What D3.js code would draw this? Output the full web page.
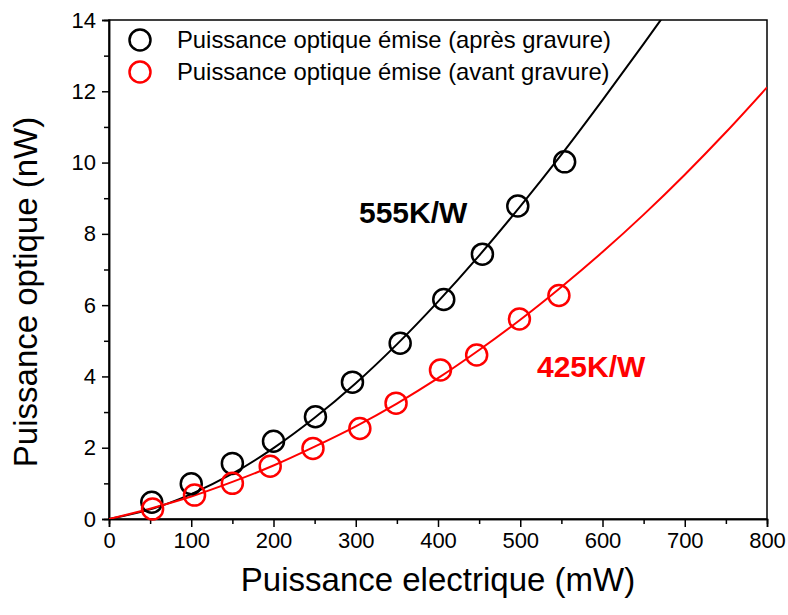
<!DOCTYPE html>
<html>
<head>
<meta charset="utf-8">
<script src="https://cdnjs.cloudflare.com/ajax/libs/d3/7.8.5/d3.min.js"></script>
<style>
     body { margin: 0; background: #fff; }
     text { font-family: Arial, 'Liberation Sans', sans-serif; }
</style>
</head>
<body>
<script>
// points measured
const apresX = [52, 100, 150, 200, 251, 296, 354, 407, 454, 497, 554]
const apresY = [0.47, 0.99, 1.56, 2.18, 2.87, 3.84, 4.93, 6.16, 7.43, 8.78, 10.02]
const avantX = [53, 104, 150, 196, 248, 305, 349, 403, 447, 499, 547]
const avantY = [0.28, 0.67, 1.0, 1.48, 1.98, 2.54, 3.25, 4.18, 4.6, 5.61, 6.27]

// fit curves
const fitApresX = [0, 50, 100, 150, 200, 250, 300, 350, 400, 450, 500, 550, 600, 650, 700]
const fitApresY = [0, 0.27, 0.7, 1.27, 1.99, 2.84, 3.81, 4.9, 6.1, 7.39, 8.77, 10.22, 11.75, 13.33, 14.95]
const fitAvantX = [0, 50, 100, 150, 200, 250, 300, 350, 400, 450, 500, 550, 600, 650, 700, 750, 800]
const fitAvantY = [0, 0.29, 0.63, 1.04, 1.5, 2.03, 2.6, 3.24, 3.95, 4.74, 5.59, 6.51, 7.49, 8.54, 9.66, 10.85, 12.11]

const xTicks = [0, 100, 200, 300, 400, 500, 600, 700, 800]
const yTicks = [0, 2, 4, 6, 8, 10, 12, 14]
const legendLabels = ['Puissance optique émise (après gravure)', 'Puissance optique émise (avant gravure)']

const w = 788
const h = 615
const plotL = 109, plotR = 767, plotT = 20, plotB = 519

const svg = d3.select('body')
     .append('svg')
     .attr('width', w)
     .attr('height', h)

const xScale = d3.scaleLinear().domain([0, 800]).range([plotL, plotR])
const yScale = d3.scaleLinear().domain([0, 14]).range([plotB, plotT])

svg.append('clipPath')
     .attr('id', 'clip')
     .append('rect')
     .attr('x', plotL)
     .attr('y', plotT)
     .attr('width', plotR - plotL)
     .attr('height', plotB - plotT)

// frame
svg.append('rect')
     .attr('x', plotL)
     .attr('y', plotT)
     .attr('width', plotR - plotL)
     .attr('height', plotB - plotT)
     .attr('fill', 'none')
     .attr('stroke', '#000')
     .attr('stroke-width', 1.5)

// axes
const xAxis = d3.axisBottom(xScale).tickValues(xTicks).tickSize(8).tickPadding(5).tickFormat(d3.format('d'))
const xMinor = d3.axisBottom(xScale).tickValues(d3.range(50, 800, 100)).tickSize(5).tickFormat('')
const yAxis = d3.axisLeft(yScale).tickValues(yTicks).tickSize(7).tickPadding(6)
const yMinor = d3.axisLeft(yScale).tickValues(d3.range(1, 14, 2)).tickSize(5).tickFormat('')

svg.append('g').attr('transform', 'translate(0,' + plotB + ')').call(xAxis)
svg.append('g').attr('transform', 'translate(0,' + plotB + ')').call(xMinor)
svg.append('g').attr('transform', 'translate(' + plotL + ',0)').call(yAxis)
svg.append('g').attr('transform', 'translate(' + plotL + ',0)').call(yMinor)

svg.selectAll('.domain').attr('stroke', '#000').attr('stroke-width', 1.5)
svg.selectAll('.tick line').attr('stroke', '#000').attr('stroke-width', 1.5)
svg.selectAll('.tick text').attr('font-size', 22).attr('fill', '#000')
     .style('font-family', "Arial, 'Liberation Sans', sans-serif")

svg.append('text')
     .attr('x', (plotL + plotR) / 2)
     .attr('y', 591)
     .attr('text-anchor', 'middle')
     .attr('font-size', 33)
     .text('Puissance electrique (mW)')

svg.append('text')
     .attr('transform', 'translate(37,292) rotate(-90)')
     .attr('text-anchor', 'middle')
     .attr('font-size', 33)
     .text('Puissance optique (nW)')

// fit lines
const line = d3.line()
     .x(d => xScale(d[0]))
     .y(d => yScale(d[1]))
     .curve(d3.curveCatmullRom)

svg.append('path')
     .datum(d3.zip(fitApresX, fitApresY))
     .attr('d', line)
     .attr('clip-path', 'url(#clip)')
     .attr('fill', 'none')
     .attr('stroke', '#000')
     .attr('stroke-width', 2)

svg.append('path')
     .datum(d3.zip(fitAvantX, fitAvantY))
     .attr('d', line)
     .attr('clip-path', 'url(#clip)')
     .attr('fill', 'none')
     .attr('stroke', '#ff0000')
     .attr('stroke-width', 2)

// circles
svg.selectAll('circle.apres')
     .data(d3.zip(apresX, apresY))
     .enter()
     .append('circle')
     .attr('class', 'apres')
     .attr('cx', d => xScale(d[0]))
     .attr('cy', d => yScale(d[1]))
     .attr('r', 10.5)
     .attr('fill', 'none')
     .attr('stroke', '#000')
     .attr('stroke-width', 2.5)

svg.selectAll('circle.avant')
     .data(d3.zip(avantX, avantY))
     .enter()
     .append('circle')
     .attr('class', 'avant')
     .attr('cx', d => xScale(d[0]))
     .attr('cy', d => yScale(d[1]))
     .attr('r', 10.5)
     .attr('fill', 'none')
     .attr('stroke', '#ff0000')
     .attr('stroke-width', 2.5)

// slope labels
svg.append('text')
     .attr('x', 359)
     .attr('y', 223)
     .attr('font-size', 30)
     .attr('font-weight', 'bold')
     .text('555K/W')

svg.append('text')
     .attr('x', 537)
     .attr('y', 377)
     .attr('font-size', 30)
     .attr('font-weight', 'bold')
     .attr('fill', '#ff0000')
     .text('425K/W')

// legend
const legendColors = ['#000', '#ff0000']
legendLabels.forEach((label, i) => {
     svg.append('circle')
          .attr('cx', 140)
          .attr('cy', 40 + i * 32)
          .attr('r', 10.5)
          .attr('fill', 'none')
          .attr('stroke', legendColors[i])
          .attr('stroke-width', 2.5)
     svg.append('text')
          .attr('x', 177)
          .attr('y', 48 + i * 32)
          .attr('font-size', 23.8)
          .text(label)
})
</script>
</body>
</html>
